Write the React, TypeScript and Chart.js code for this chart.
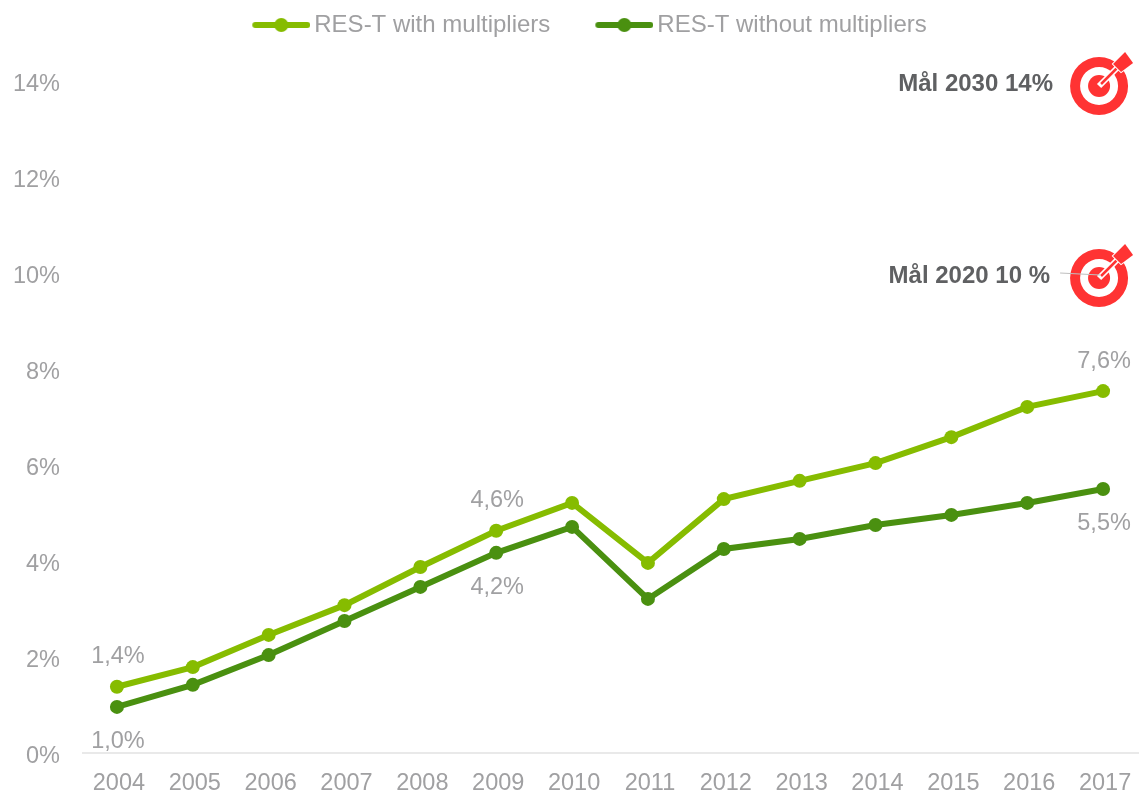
import React, { useEffect, useRef } from "react";
import { Chart, registerables } from "chart.js";

Chart.register(...registerables);

const years = ["2004","2005","2006","2007","2008","2009","2010","2011","2012","2013","2014","2015","2016","2017"];
const withMultipliers = [1.38,1.79,2.46,3.08,3.875,4.63,5.21,3.96,5.29,5.67,6.04,6.58,7.21,7.54];
const withoutMultipliers = [0.96,1.42,2.04,2.75,3.46,4.17,4.71,3.21,4.25,4.46,4.75,4.96,5.21,5.5];
const withLabels = ["1,4%",null,null,null,null,"4,6%",null,null,null,null,null,null,null,"7,6%"];
const withoutLabels = ["1,0%",null,null,null,null,"4,2%",null,null,null,null,null,null,null,"5,5%"];
const goals = [
  { value: 14, text: "Mål 2030 14%", textRight: 1053, leader: false },
  { value: 10, text: "Mål 2020 10 %", textRight: 1050, leader: true },
];

const LIGHT = "#86BC00";
const DARK = "#4A9010";
const GREY = "#A0A0A2";
const BOLD = "#5F6062";
const RED = "#FF3333";
const FONT = "'Liberation Sans', Arial, sans-serif";

function legendMarker(color: string) {
  const c = document.createElement("canvas");
  c.width = 98;
  c.height = 16;
  const g = c.getContext("2d")!;
  g.strokeStyle = color;
  g.fillStyle = color;
  g.lineWidth = 6;
  g.lineCap = "round";
  g.beginPath();
  g.moveTo(43, 8);
  g.lineTo(95, 8);
  g.stroke();
  g.beginPath();
  g.arc(69, 8, 7, 0, Math.PI * 2);
  g.fill();
  return c;
}

function drawTarget(ctx: CanvasRenderingContext2D, cx: number, cy: number) {
  ctx.save();
  ctx.translate(cx, cy);
  ctx.fillStyle = RED;
  ctx.beginPath();
  ctx.arc(0, 0, 29, 0, Math.PI * 2);
  ctx.arc(0, 0, 19, 0, Math.PI * 2, true);
  ctx.fill();
  ctx.beginPath();
  ctx.arc(0, 0, 11, 0, Math.PI * 2);
  ctx.fill();
  ctx.strokeStyle = "#fff";
  ctx.lineWidth = 6;
  ctx.beginPath();
  ctx.moveTo(0, 0);
  ctx.lineTo(22, -22);
  ctx.stroke();
  ctx.strokeStyle = RED;
  ctx.lineWidth = 2.5;
  ctx.beginPath();
  ctx.moveTo(2, -2);
  ctx.lineTo(19, -19);
  ctx.stroke();
  ctx.beginPath();
  ctx.moveTo(14, -22);
  ctx.lineTo(26, -34);
  ctx.lineTo(34, -23);
  ctx.lineTo(22, -14);
  ctx.closePath();
  ctx.lineWidth = 2;
  ctx.strokeStyle = "#fff";
  ctx.stroke();
  ctx.fill();
  ctx.restore();
}

const decorations = {
  id: "decorations",
  beforeLayout(chart: any) {
    const legend = chart.legend;
    if (legend && !legend.__patched) {
      const fit = legend.fit;
      legend.fit = function () {
        fit.call(this);
        this.height = 81;
      };
      legend.__patched = true;
    }
  },
  beforeDatasetsDraw(chart: any) {
    const { ctx, scales, chartArea } = chart;
    const y0 = scales.y.getPixelForValue(0);
    ctx.save();
    ctx.strokeStyle = "#E2E2E2";
    ctx.lineWidth = 1.5;
    ctx.beginPath();
    ctx.moveTo(chartArea.left + 3, y0);
    ctx.lineTo(chartArea.right, y0);
    ctx.stroke();
    ctx.restore();
  },
  afterDatasetsDraw(chart: any) {
    const { ctx, scales } = chart;
    ctx.save();
    ctx.font = `23.5px ${FONT}`;
    ctx.fillStyle = GREY;
    ctx.textAlign = "center";
    ctx.textBaseline = "middle";
    [
      { labels: withLabels, values: withMultipliers, offset: -30 },
      { labels: withoutLabels, values: withoutMultipliers, offset: 35 },
    ].forEach(({ labels, values, offset }) => {
      labels.forEach((t, i) => {
        if (!t) return;
        ctx.fillText(t, scales.x.getPixelForValue(i) + 1, scales.y.getPixelForValue(values[i]) + offset);
      });
    });
    goals.forEach((g) => {
      const y = scales.y.getPixelForValue(g.value);
      const cx = scales.x.getPixelForValue(years.length - 1) - 4;
      drawTarget(ctx, cx, y + 5);
      if (g.leader) {
        ctx.strokeStyle = "#BFBFBF";
        ctx.lineWidth = 1.2;
        ctx.beginPath();
        ctx.moveTo(cx - 39, y);
        ctx.lineTo(cx + 1, y + 2);
        ctx.stroke();
      }
      ctx.font = `bold 24px ${FONT}`;
      ctx.fillStyle = BOLD;
      ctx.textAlign = "right";
      ctx.fillText(g.text, g.textRight, y + 3);
    });
    ctx.restore();
  },
};

export default function App() {
  const ref = useRef<HTMLCanvasElement>(null);
  useEffect(() => {
    const markers = [legendMarker(LIGHT), legendMarker(DARK)];
    const chart = new Chart(ref.current!, {
      type: "line",
      data: {
        labels: years,
        datasets: [
          { label: "RES-T with multipliers", data: withMultipliers, borderColor: LIGHT, backgroundColor: LIGHT, borderWidth: 6, pointRadius: 7, pointBackgroundColor: LIGHT, pointBorderWidth: 0, tension: 0 },
          { label: "RES-T without multipliers", data: withoutMultipliers, borderColor: DARK, backgroundColor: DARK, borderWidth: 6, pointRadius: 7, pointBackgroundColor: DARK, pointBorderWidth: 0, tension: 0 },
        ],
      },
      options: {
        animation: false,
        responsive: false,
        layout: { autoPadding: false, padding: { left: 6, right: 3 } },
        plugins: {
          tooltip: { enabled: false },
          legend: {
            position: "top",
            labels: {
              usePointStyle: true,
              pointStyleWidth: 82,
              padding: 13,
              color: GREY,
              font: { family: FONT, size: 24 },
              generateLabels: (c: any) =>
                c.data.datasets.map((d: any, i: number) => ({
                  text: d.label,
                  fontColor: GREY,
                  pointStyle: markers[i],
                  datasetIndex: i,
                  lineWidth: 0,
                  hidden: false,
                })),
            },
          },
        },
        scales: {
          x: {
            offset: true,
            grid: { display: false, drawTicks: false, offset: true },
            border: { display: false },
            ticks: { color: GREY, font: { family: FONT, size: 23.5 }, padding: 16, labelOffset: 2, maxRotation: 0, autoSkip: false },
            afterFit: (s: any) => { s.height = 41; s.paddingLeft = 0; s.paddingRight = 0; },
          },
          y: {
            min: 0,
            max: 14,
            grid: { display: false, drawTicks: false },
            border: { display: false },
            ticks: { stepSize: 2, color: GREY, font: { family: FONT, size: 23.5 }, padding: 19, labelOffset: 4, callback: (v: any) => `${v}%` },
            afterFit: (s: any) => { s.width = 73; },
          },
        },
      },
      plugins: [decorations],
    } as any);
    return () => chart.destroy();
  }, []);
  return (
    <div style={{ position: "fixed", left: 0, top: 0, width: 1139, height: 794, overflow: "hidden", background: "#fff" }}>
      <canvas ref={ref} width={1144} height={794} style={{ display: "block" }} />
    </div>
  );
}
